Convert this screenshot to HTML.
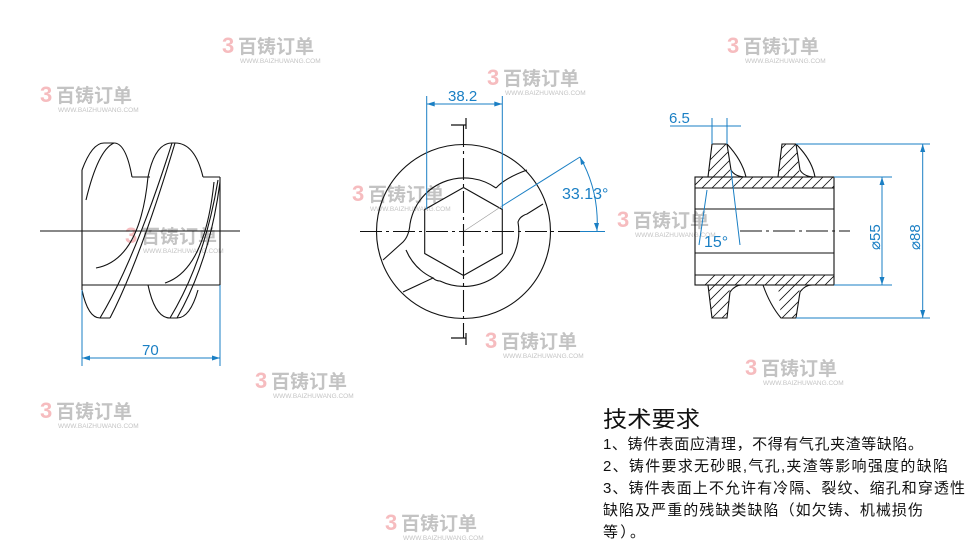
<!DOCTYPE html>
<html><head><meta charset="utf-8"><style>
html,body{margin:0;padding:0;background:#fff}
svg{display:block}
.wm{font-family:"Liberation Sans","Noto Sans CJK SC",sans-serif;}
</style></head><body>
<svg width="969" height="545" viewBox="0 0 969 545" xmlns="http://www.w3.org/2000/svg">
<defs>
<g id="wm">
<text x="0" y="0" font-size="22" font-weight="bold" fill="#f2a0a4" class="wm">3</text>
<text x="16" y="0" font-size="19" font-weight="bold" fill="#aaa" class="wm">百铸订单</text>
<text x="18" y="10" font-size="6.5" fill="#aaa" class="wm">WWW.BAIZHUWANG.COM</text>
</g>
</defs>
<g opacity="0.7">
<use href="#wm" x="222" y="53"/>
<use href="#wm" x="727" y="53"/>
<use href="#wm" x="487" y="85"/>
<use href="#wm" x="352" y="201"/>
<use href="#wm" x="617" y="227"/>
<use href="#wm" x="125" y="243"/>
<use href="#wm" x="485" y="348"/>
<use href="#wm" x="745" y="375"/>
<use href="#wm" x="255" y="388"/>
<use href="#wm" x="385" y="530"/>
<use href="#wm" x="40" y="418"/>
<use href="#wm" x="40" y="102"/>
</g>

<g fill="none" stroke="#111" stroke-width="1.1">
<!-- LEFT VIEW -->
<line x1="82" y1="170" x2="82" y2="290"/>
<line x1="220" y1="177" x2="220" y2="285"/>
<line x1="132" y1="177" x2="150" y2="177"/>
<line x1="203" y1="177" x2="220" y2="177"/>
<line x1="82" y1="285" x2="220" y2="285"/>
<line x1="40" y1="231" x2="240" y2="231"/>
<path d="M82,170 Q92,143 104,143 L114,143 Q126,143 132,177"/>
<path d="M86,200 Q98,150 114,143"/>
<path d="M148,177 Q155,143 172,143 L175,143 Q195,143 203,177"/>
<path d="M100,318 Q135,260 172,143"/>
<path d="M110,318 Q140,260 175,143"/>
<path d="M96,268 Q140,260 148,177"/>
<path d="M170,318 Q205,260 218,180"/>
<path d="M177,318 Q210,260 220,182"/>
<path d="M165,283 Q205,270 214,182"/>
<path d="M82,290 Q88,318 100,318 L110,318"/>
<path d="M148,285 Q155,318 170,318 L177,318 Q190,318 198,290"/>
<!-- MIDDLE VIEW -->
<circle cx="463.5" cy="231.5" r="87"/>
<path d="M496,188 A55,55 0 0 0 410,224 Q409,236 403,242 L383,260"/>
<path d="M406,250 A55,55 0 0 0 433,278 L403,292"/>
<path d="M433,278 Q436,281 440,281 A55,55 0 0 0 518,222 Q520,216 527,214 L543,204"/>
<path d="M496,188 Q505,178 527,170"/>
<polygon points="463.5,187.5 502.3,209.5 502.3,253.5 463.5,275.5 424.7,253.5 424.7,209.5"/>
<line x1="463.5" y1="231.5" x2="502" y2="206" stroke="#999" stroke-width="0.6"/>
<line x1="360" y1="231.5" x2="580" y2="231.5" stroke-dasharray="22,4,3,4"/>
<line x1="463.5" y1="125" x2="463.5" y2="338" stroke-dasharray="22,4,3,4"/>
<path d="M451,125 L466,125 M466,118 L466,129" stroke-width="1.2"/>
<path d="M451,338 L466,338 M466,333 L466,345" stroke-width="1.2"/>
<!-- RIGHT VIEW -->
<rect x="695" y="177" width="139" height="108"/>
<line x1="695" y1="188" x2="834" y2="188"/>
<line x1="695" y1="209" x2="834" y2="209"/>
<line x1="695" y1="253" x2="834" y2="253"/>
<line x1="695" y1="275" x2="834" y2="275"/>
<line x1="740" y1="231" x2="850" y2="231" stroke-dasharray="22,4,3,4"/>
<path d="M708,177 L712,144 L727,144 Q742,160 746,177"/>
<path d="M727,144 L731,170 Q735,177 746,177"/>
<path d="M778,177 L782,144 L796,144 Q812,160 815,177"/>
<path d="M796,144 L800,170 Q804,177 815,177"/>
<path d="M708,285 L712,318 L727,318 L730,292 Q735,285 742,285"/>
<path d="M763,285 Q770,305 781,318 L796,318 L800,292 Q805,285 812,285"/>
</g>
<clipPath id="c"><path d="M695,177 L708,177 L712,144 L727,144 L731,177 L778,177 L782,144 L796,144 L800,177 L834,177 L834,188 L695,188Z M695,275 L834,275 L834,285 L800,285 L796,318 L781,318 L778,285 L730,285 L727,318 L712,318 L708,285 L695,285Z"/></clipPath>
<g stroke="#111" stroke-width="0.8" clip-path="url(#c)">
<path d="M670,200 L730,140 M680,200 L740,140 M690,200 L750,140 M700,200 L760,140 M710,200 L770,140 M720,200 L780,140 M730,200 L790,140 M740,200 L800,140 M750,200 L810,140 M760,200 L820,140 M770,200 L830,140 M780,200 L840,140 M790,200 L850,140 M800,200 L860,140 M810,200 L870,140 M820,200 L880,140"/>
<path d="M660,330 L720,270 M670,330 L730,270 M680,330 L740,270 M690,330 L750,270 M700,330 L760,270 M710,330 L770,270 M720,330 L780,270 M730,330 L790,270 M740,330 L800,270 M750,330 L810,270 M760,330 L820,270 M770,330 L830,270 M780,330 L840,270 M790,330 L850,270 M800,330 L860,270 M810,330 L870,270"/>
</g>

<g stroke="#1a7fc4" stroke-width="1" fill="none">
<line x1="82" y1="290" x2="82" y2="366"/>
<line x1="220" y1="285" x2="220" y2="366"/>
<line x1="82" y1="358" x2="220" y2="358"/>
<line x1="426.7" y1="96" x2="426.7" y2="209"/>
<line x1="502.3" y1="96" x2="502.3" y2="209"/>
<line x1="426.7" y1="104" x2="502.3" y2="104"/>
<line x1="502" y1="206" x2="580" y2="157"/>
<path d="M580,157 A135,135 0 0 1 597,231"/>
<line x1="580" y1="231.5" x2="605" y2="231.5"/>
<line x1="712" y1="118" x2="712" y2="144"/>
<line x1="727" y1="118" x2="727" y2="144"/>
<line x1="670" y1="126" x2="741" y2="126"/>
<line x1="707" y1="190" x2="699" y2="245"/>
<line x1="731" y1="170" x2="740" y2="245"/>
<line x1="834" y1="177" x2="892" y2="177"/>
<line x1="834" y1="285" x2="892" y2="285"/>
<line x1="882" y1="177" x2="882" y2="285"/>
<line x1="796" y1="144" x2="930" y2="144"/>
<line x1="796" y1="318" x2="930" y2="318"/>
<line x1="922.7" y1="144" x2="922.7" y2="318"/>
</g>
<g fill="#1a7fc4">
<path d="M82,358 l8,-2.5 v5z M220,358 l-8,-2.5 v5z"/>
<path d="M426.7,104 l8,-2.5 v5z M502.3,104 l-8,-2.5 v5z"/>
<path d="M597,231 l-3,-8 l5,0z M580,157 l5,6 l-4,2z"/>
<path d="M882,177 l-2.5,8 h5z M882,285 l-2.5,-8 h5z M922.7,144 l-2.5,8 h5z M922.7,318 l-2.5,-8 h5z"/>
</g>
<g font-family="Liberation Sans, sans-serif" fill="#1a7fc4" font-size="15">
<text x="142" y="355">70</text>
<text x="448" y="101">38.2</text>
<text x="562" y="199" font-size="16">33.13°</text>
<text x="669" y="123">6.5</text>
<text x="704" y="247" font-size="16">15°</text>
<text transform="translate(880,250) rotate(-90)">⌀55</text>
<text transform="translate(920,250) rotate(-90)">⌀88</text>
</g>
<g font-family="Liberation Sans, Noto Sans CJK SC, sans-serif" fill="#111">
<text x="603" y="427" font-size="22" textLength="97" lengthAdjust="spacingAndGlyphs">技术要求</text>
<text x="603" y="449" font-size="15" textLength="320" lengthAdjust="spacing">1、铸件表面应清理，不得有气孔夹渣等缺陷。</text>
<text x="603" y="471" font-size="15" textLength="345" lengthAdjust="spacing">2、铸件要求无砂眼,气孔,夹渣等影响强度的缺陷</text>
<text x="603" y="493" font-size="15" textLength="362" lengthAdjust="spacing">3、铸件表面上不允许有冷隔、裂纹、缩孔和穿透性</text>
<text x="603" y="515" font-size="15" textLength="320" lengthAdjust="spacing">缺陷及严重的残缺类缺陷（如欠铸、机械损伤</text>
<text x="603" y="537" font-size="15" textLength="42" lengthAdjust="spacing">等）。</text>
</g>
</svg>
</body></html>
